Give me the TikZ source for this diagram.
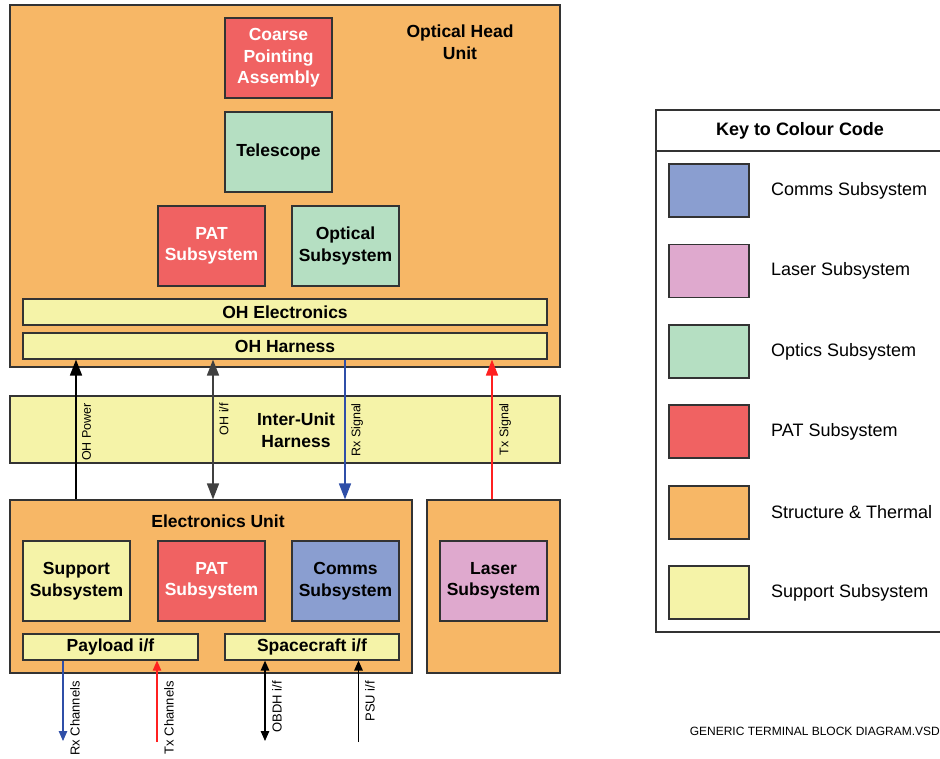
\documentclass[tikz,border=0pt]{standalone}
\usepackage{fontspec}
\setmainfont{Liberation Sans}
\usetikzlibrary{arrows.meta}
\definecolor{cOrange}{HTML}{F7B766}
\definecolor{cRed}{HTML}{F06262}
\definecolor{cGreen}{HTML}{B5DFC2}
\definecolor{cYellow}{HTML}{F5F3A8}
\definecolor{cBlue}{HTML}{8A9ED0}
\definecolor{cPink}{HTML}{DFA9CE}
\definecolor{cBorder}{HTML}{333333}
\definecolor{cRx}{HTML}{2F4FA8}
\definecolor{cTx}{HTML}{FF2020}
\begin{document}
\begin{tikzpicture}[x=1pt,y=-1pt,
  box/.style={draw=cBorder, line width=1.2pt, inner sep=0pt, align=center,
    font=\fontsize{17.5}{21.5}\selectfont\bfseries},
  sub/.style={box, minimum width=107pt, minimum height=80pt},
  bar/.style={box, minimum height=26pt},
  swatch/.style={draw=cBorder, line width=1.2pt, minimum width=80pt, minimum height=53pt, inner sep=0pt},
  keytext/.style={anchor=west, inner sep=0pt, font=\fontsize{18}{21}\selectfont},
  lbl/.style={rotate=90, anchor=north east, inner sep=0pt, font=\fontsize{12.5}{14}\selectfont},
  blbl/.style={rotate=90, anchor=north east, inner sep=0pt, font=\fontsize{13}{15}\selectfont},
  bigtip/.tip={Triangle[length=16pt,width=12pt]},
  smalltip/.tip={Triangle[length=10pt,width=8.5pt]},
  arr/.style={line width=1.7pt, -bigtip},
  darr/.style={line width=1.7pt, bigtip-bigtip},
  sarr/.style={line width=1.1pt, -smalltip},
  sdarr/.style={line width=1.4pt, smalltip-smalltip}
]
\useasboundingbox (0,0) rectangle (940,758);

% Optical Head Unit
\node[box, fill=cOrange, minimum width=550pt, minimum height=362pt] (ohu) at (285,186) {};
\node[font=\fontsize{17.5}{21.5}\selectfont\bfseries, align=center, inner sep=0pt] (ohulbl) at (460,42) {Optical Head\\Unit};
\node[sub, fill=cRed, text=white] (cpa) at (278.5,58) {Coarse\\Pointing\\Assembly};
\node[sub, fill=cGreen] (tel) at (278.5,152) {Telescope};
\node[sub, fill=cRed, text=white] (patoh) at (211.5,246) {PAT\\Subsystem};
\node[sub, fill=cGreen] (opt) at (345.5,246) {Optical\\Subsystem};
\node[bar, fill=cYellow, minimum width=524pt] (ohe) at (285,312) {OH Electronics};
\node[bar, fill=cYellow, minimum width=524pt] (ohh) at (285,346) {OH Harness};

% Inter-Unit Harness
\node[box, fill=cYellow, minimum width=550pt, minimum height=67pt] (iuh) at (285,429.5) {};
\node[font=\fontsize{17.5}{21.5}\selectfont\bfseries, align=center, inner sep=0pt] (iuhlbl) at (296,430) {Inter-Unit\\Harness};

% Electronics Unit
\node[box, fill=cOrange, minimum width=402pt, minimum height=173pt] (eu) at (211,586.5) {};
\node[font=\fontsize{17.5}{21.5}\selectfont\bfseries, inner sep=0pt] (eulbl) at (218,521) {Electronics Unit};
\node[sub, fill=cYellow] (sup) at (76.5,581) {Support\\Subsystem};
\node[sub, fill=cRed, text=white] (pateu) at (211.5,581) {PAT\\Subsystem};
\node[sub, fill=cBlue] (comms) at (345.5,581) {Comms\\Subsystem};
\node[bar, fill=cYellow, minimum width=175pt] (pif) at (110.5,647) {Payload i/f};
\node[bar, fill=cYellow, minimum width=174pt] (sif) at (312,647) {Spacecraft i/f};

% Laser unit
\node[box, fill=cOrange, minimum width=133pt, minimum height=173pt] (lu) at (493.5,586.5) {};
\node[sub, fill=cPink] (laser) at (493.5,581) {Laser\\Subsystem};

% Inter-unit connectors
\draw[arr] (76,0 |- eu.north) -- (76,0 |- ohh.south);
\node[lbl] (lpow) at (82,403) {OH Power};
\draw[darr, draw=black!75, fill=black] (213,0 |- eu.north) -- (213,0 |- ohh.south);
\node[lbl] (lohif) at (219,403) {OH i/f};
\draw[arr, draw=cRx, fill=cRx] (345,0 |- ohh.south) -- (345,0 |- eu.north);
\node[lbl] (lrx) at (351,403) {Rx Signal};
\draw[arr, draw=cTx, fill=cTx] (492,0 |- lu.north) -- (492,0 |- ohh.south);
\node[lbl] (ltx) at (499,403) {Tx Signal};

% External connectors
\coordinate (erx) at (63,741);
\coordinate (etx) at (157,742);
\coordinate (eob) at (265,741);
\coordinate (eps) at (358.5,742);
\draw[sarr, draw=cRx, fill=cRx] (63,0 |- pif.south) -- (erx);
\node[blbl] (lrxc) at (70,681) {Rx Channels};
\draw[sarr, draw=cTx, fill=cTx] (etx) -- (157,0 |- pif.south);
\node[blbl] (ltxc) at (164,681) {Tx Channels};
\draw[sdarr] (265,0 |- sif.south) -- (eob);
\node[blbl] (lob) at (272,681) {OBDH i/f};
\draw[sarr, line width=1.6pt] (eps) -- (358.5,0 |- sif.south);
\node[blbl] (lps) at (365,681) {PSU i/f};

% Key
\node[draw=cBorder, line width=1.2pt, fill=white, minimum width=300pt, minimum height=522pt, inner sep=0pt] (key) at (806,371) {};
\draw[draw=cBorder, line width=1.2pt] (key.west |- 0,151) -- (key.east |- 0,151);
\node[font=\fontsize{18}{21}\selectfont\bfseries, inner sep=0pt] (keyttl) at (800,131) {Key to Colour Code};
\node[swatch, fill=cBlue] (k1) at (709,190.5) {};
\node[keytext] (t1) at (771,190.5) {Comms Subsystem};
\node[swatch, fill=cPink] (k2) at (709,271) {};
\node[keytext] (t2) at (771,271) {Laser Subsystem};
\node[swatch, fill=cGreen] (k3) at (709,351.5) {};
\node[keytext] (t3) at (771,351.5) {Optics Subsystem};
\node[swatch, fill=cRed] (k4) at (709,431.5) {};
\node[keytext] (t4) at (771,431.5) {PAT Subsystem};
\node[swatch, fill=cOrange] (k5) at (709,512.5) {};
\node[keytext] (t5) at (771,512.5) {Structure \& Thermal};
\node[swatch, fill=cYellow] (k6) at (709,592.5) {};
\node[keytext] (t6) at (771,592.5) {Support Subsystem};

\node[anchor=east, inner sep=0pt, font=\fontsize{12}{14}\selectfont] (foot) at (940,731) {GENERIC TERMINAL BLOCK DIAGRAM.VSD};
\end{tikzpicture}
\end{document}
